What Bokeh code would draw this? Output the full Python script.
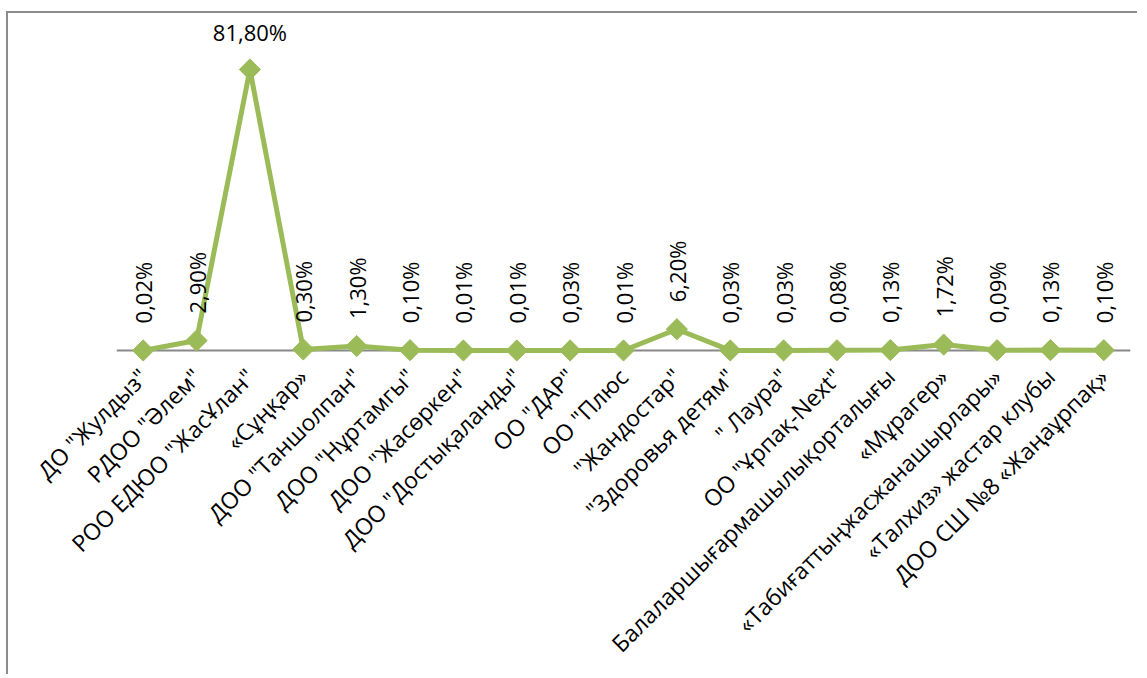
import math
from bokeh.plotting import figure
from bokeh.models import ColumnDataSource, Range1d, FactorRange, Span
from bokeh.core.properties import value
from bokeh.embed import file_html
from bokeh.resources import INLINE

categories = [
    'ДО "Жулдыз"',
    'РДОО "Әлем"',
    'РОО ЕДЮО "ЖасҰлан"',
    '«Сұңқар»',
    'ДОО "Таншолпан"',
    'ДОО "Нұртамгы"',
    'ДОО "Жасөркен"',
    'ДОО "Достықаланды"',
    'ОО "ДАР"',
    'ОО "Плюс',
    '"Жандостар"',
    '"Здоровья детям"',
    '" Лаура"',
    'ОО "Ұрпақ-Next"',
    'Балаларшығармашылықорталығы',
    '«Мұрагер»',
    '«Табиғаттыңжасжанашырлары»',
    '«Талхиз» жастар клубы',
    'ДОО СШ №8 «Жаңаұрпақ»',
]
values = [0.02, 2.90, 81.80, 0.30, 1.30, 0.10, 0.01, 0.01, 0.03, 0.01,
          6.20, 0.03, 0.03, 0.08, 0.13, 1.72, 0.09, 0.13, 0.10]
labels = [f"{v:.2f}".replace(".", ",") + "%" for v in values]

FONT = "Open Sans"
GREEN = "#9BBB59"

imax = values.index(max(values))
src = ColumnDataSource(dict(x=categories, y=values, label=labels))
src_v = ColumnDataSource(dict(
    x=[c for i, c in enumerate(categories) if i != imax],
    y=[v for i, v in enumerate(values) if i != imax],
    label=[l for i, l in enumerate(labels) if i != imax]))
src_h = ColumnDataSource(dict(x=[categories[imax]], y=[values[imax]], label=[labels[imax]]))

p = figure(x_range=FactorRange(*categories, range_padding=0),
           y_range=Range1d(-3.49, 98.1),
           width=1131, height=663,
           output_backend="svg", toolbar_location=None,
           min_border_left=108, min_border_right=9,
           min_border_top=0, min_border_bottom=314)
p.styles = {"border-top": "2px solid #8c8c8c", "border-left": "2px solid #8c8c8c",
            "margin-left": "6px", "margin-top": "11px"}
p.outline_line_color = None
p.background_fill_color = "white"
p.border_fill_color = "white"
p.xgrid.grid_line_color = None
p.ygrid.grid_line_color = None
p.yaxis.visible = False

xa = p.xaxis[0]
xa.axis_line_color = None
xa.major_tick_line_color = None
xa.minor_tick_line_color = None
xa.major_label_orientation = math.pi / 4
xa.major_label_text_font = FONT
xa.major_label_text_font_size = "23px"
xa.major_label_text_color = "black"
xa.major_label_standoff = 4

p.add_layout(Span(location=0, dimension="width", line_color="#888888",
                  line_width=2, level="underlay"))

p.line("x", "y", source=src, line_color=GREEN, line_width=5)
p.scatter("x", "y", source=src, marker="square", angle=math.pi / 4,
          size=15, fill_color=GREEN, line_color=GREEN)

p.text("x", "y", text="label", source=src_v, angle=math.pi / 2,
       text_align="left", text_baseline="middle", y_offset=-27,
       text_font=value(FONT), text_font_size="22px", text_color="black")
p.text("x", "y", text="label", source=src_h,
       text_align="center", text_baseline="bottom", y_offset=-22,
       text_font=value(FONT), text_font_size="22px", text_color="black")

open("out.html", "w").write(file_html(p, INLINE))
